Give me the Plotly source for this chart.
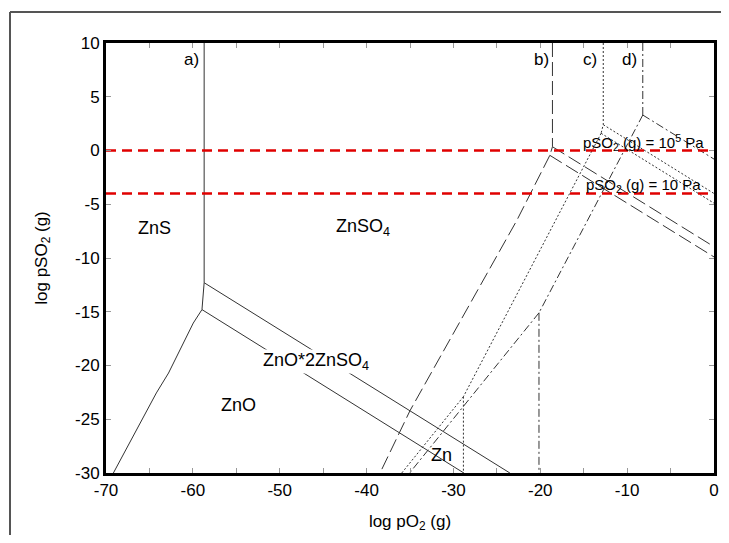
import plotly.graph_objects as go

# ---------------- data ----------------
# a) solid lines
A_VERT_X = [-58.7, -58.7, -58.95]
A_VERT_Y = [10, -12.3, -14.8]
A_UP_X = [-58.7, -23.5]
A_UP_Y = [-12.3, -30]
A_LOW_X = [-58.95, -28.8]
A_LOW_Y = [-14.8, -30]
A_ZNS_ZNO_X = [-58.95, -59.95, -62.8, -64.2, -69.15]
A_ZNS_ZNO_Y = [-14.8, -16.05, -20.7, -22.55, -30]

# b) long dash
B_VERT_X = [-18.6, -18.6, -18.9]
B_VERT_Y = [10, 0.35, -0.45]
B_UP_X = [-18.6, 0]
B_UP_Y = [0.35, -8.95]
B_LOW_X = [-18.9, 0]
B_LOW_Y = [-0.45, -9.9]
B_ZNS_ZNO_X = [-18.9, -22.7, -35.0, -38.45]
B_ZNS_ZNO_Y = [-0.45, -6.5, -24.2, -30]

# c) dotted
C_VERT_X = [-12.75, -12.75, -13.0]
C_VERT_Y = [10, 2.4, 1.6]
C_UP_X = [-12.75, 0]
C_UP_Y = [2.4, -4.0]
C_LOW_X = [-13.0, 0]
C_LOW_Y = [1.6, -4.9]
C_ZNS_ZNO_X = [-13.0, -28.85]
C_ZNS_ZNO_Y = [1.6, -22.9]
C_ZNS_ZN_X = [-28.85, -35.95]
C_ZNS_ZN_Y = [-22.9, -30]
C_ZN_ZNO_X = [-28.85, -28.85]
C_ZN_ZNO_Y = [-22.9, -30]

# d) dash-dot
D_VERT_X = [-8.2, -8.2]
D_VERT_Y = [10, 3.3]
D_UP_X = [-8.2, 0]
D_UP_Y = [3.3, -0.8]
D_ZNS_ZNO_X = [-8.2, -20.15]
D_ZNS_ZNO_Y = [3.3, -15.1]
D_ZNS_ZN_X = [-20.15, -35.05]
D_ZNS_ZN_Y = [-15.1, -30]
D_ZN_ZNO_X = [-20.15, -20.15]
D_ZN_ZNO_Y = [-15.1, -30]

# reference pressures (log pSO2)
REF_LEVELS = [0, -4]
REF_LABELS = ["pSO<sub>2</sub> (g) = 10<sup>5</sup> Pa", "pSO<sub>2</sub> (g) = 10 Pa"]
REF_LABEL_POS = [(-8.06, 0.75), (-8.1, -3.3)]

CURVE_LABELS = ["a)", "b)", "c)", "d)"]
CURVE_LABEL_X = [-60.2, -19.9, -14.3, -9.7]
CURVE_LABEL_Y = [8.5, 8.5, 8.5, 8.5]

REGION_LABELS = ["ZnS", "ZnSO<sub>4</sub>", "ZnO*2ZnSO<sub>4</sub>", "ZnO", "Zn"]
REGION_X = [-64.4, -40.4, -45.8, -54.8, -31.35]
REGION_Y = [-7.2, -7.2, -19.6, -23.7, -28.3]

X_TICKS = [-70, -60, -50, -40, -30, -20, -10, 0]
X_TICK_TEXT = ["-70", "-60", "-50", "-40", "-30", "-20", "-10", "0"]
Y_TICKS = [-30, -25, -20, -15, -10, -5, 0, 5, 10]
Y_TICK_TEXT = ["-30", "-25", "-20", "-15", "-10", "-5", "0", "5", "10"]

FONT = "Liberation Sans, Arial, sans-serif"
LINE_COLOR = "#333333"

fig = go.Figure()

def add(xs, ys, dash):
    fig.add_trace(go.Scatter(x=xs, y=ys, mode="lines",
                             line=dict(color=LINE_COLOR, width=1, dash=dash),
                             hoverinfo="skip", showlegend=False))

for xs, ys in [(A_VERT_X, A_VERT_Y), (A_UP_X, A_UP_Y), (A_LOW_X, A_LOW_Y), (A_ZNS_ZNO_X, A_ZNS_ZNO_Y)]:
    add(xs, ys, "solid")
for xs, ys in [(B_VERT_X, B_VERT_Y), (B_UP_X, B_UP_Y), (B_LOW_X, B_LOW_Y), (B_ZNS_ZNO_X, B_ZNS_ZNO_Y)]:
    add(xs, ys, "14px,5px")
for xs, ys in [(C_VERT_X, C_VERT_Y), (C_UP_X, C_UP_Y), (C_LOW_X, C_LOW_Y), (C_ZNS_ZNO_X, C_ZNS_ZNO_Y),
               (C_ZNS_ZN_X, C_ZNS_ZN_Y), (C_ZN_ZNO_X, C_ZN_ZNO_Y)]:
    add(xs, ys, "2px,2px")
for xs, ys in [(D_VERT_X, D_VERT_Y), (D_UP_X, D_UP_Y), (D_ZNS_ZNO_X, D_ZNS_ZNO_Y),
               (D_ZNS_ZN_X, D_ZNS_ZN_Y), (D_ZN_ZNO_X, D_ZN_ZNO_Y)]:
    add(xs, ys, "8px,3px,2px,3px")

# red reference lines
for lv in REF_LEVELS:
    fig.add_trace(go.Scatter(x=[-70, 0], y=[lv, lv], mode="lines",
                             line=dict(color="#e00000", width=2.5, dash="10px,6px"),
                             hoverinfo="skip", showlegend=False))

# region labels (white background masks lines)
for t, x, y in zip(REGION_LABELS, REGION_X, REGION_Y):
    fig.add_annotation(x=x, y=y, text=t, showarrow=False,
                       font=dict(family=FONT, size=18, color="black"),
                       bgcolor="white" if "ZnO*" in t else "rgba(0,0,0,0)", borderpad=0)

for t, x, y in zip(CURVE_LABELS, CURVE_LABEL_X, CURVE_LABEL_Y):
    fig.add_annotation(x=x, y=y, text=t, showarrow=False,
                       font=dict(family=FONT, size=17, color="black"))

for t, (x, y) in zip(REF_LABELS, REF_LABEL_POS):
    fig.add_annotation(x=x, y=y, text=t, showarrow=False,
                       font=dict(family=FONT, size=15, color="black"))

# The page body has an 8px margin: size the figure so that it fits the window
# without scrollbars and offset the plot area to compensate.
OFF = 8
W, H = 729 - OFF, 543 - 2 * OFF
L, T = 106 - OFF, 43 - OFF
R = W - (714 - OFF)
B = H - (473 - OFF)
pw, ph = W - L - R, H - T - B

# outer frame: only the top and left edges are visible in the reference
fx = (10 - OFF - L) / pw
fy = (H - B - (12 - OFF)) / ph
fig.add_shape(type="line", xref="paper", yref="paper", x0=fx, x1=(W - L) / pw, y0=fy, y1=fy,
              line=dict(color="#555555", width=2), layer="below")
fig.add_shape(type="line", xref="paper", yref="paper", x0=fx, x1=fx, y0=fy, y1=-B / ph,
              line=dict(color="#555555", width=2), layer="below")

fig.update_layout(
    width=W, height=H,
    margin=dict(l=L, r=R, t=T, b=B, autoexpand=False),
    paper_bgcolor="white", plot_bgcolor="white",
    font=dict(family=FONT, size=17, color="black"),
    xaxis=dict(range=[-70, 0], tickvals=X_TICKS, ticktext=X_TICK_TEXT, ticks="inside", ticklen=5,
               tickcolor="#999999", tickwidth=1,
               minor=dict(dtick=5, tick0=0, ticks="inside", ticklen=5, tickcolor="#999999"),
               showline=True, linecolor="black", linewidth=3, mirror="ticks",
               showgrid=False, zeroline=False, automargin=False,
               tickfont=dict(size=17),
               title=dict(text="log pO<sub>2</sub> (g)", font=dict(size=17), standoff=16)),
    yaxis=dict(range=[-30, 10], tickvals=Y_TICKS, ticktext=Y_TICK_TEXT, ticks="inside", ticklen=5,
               tickcolor="#999999", tickwidth=1,
               showline=True, linecolor="black", linewidth=3, mirror="ticks",
               showgrid=False, zeroline=False, automargin=False,
               tickfont=dict(size=17),
               title=dict(text="log pSO<sub>2</sub> (g)", font=dict(size=17), standoff=24)),
)

fig.write_html("out.html", default_width=f"{W}px", default_height=f"{H}px")
